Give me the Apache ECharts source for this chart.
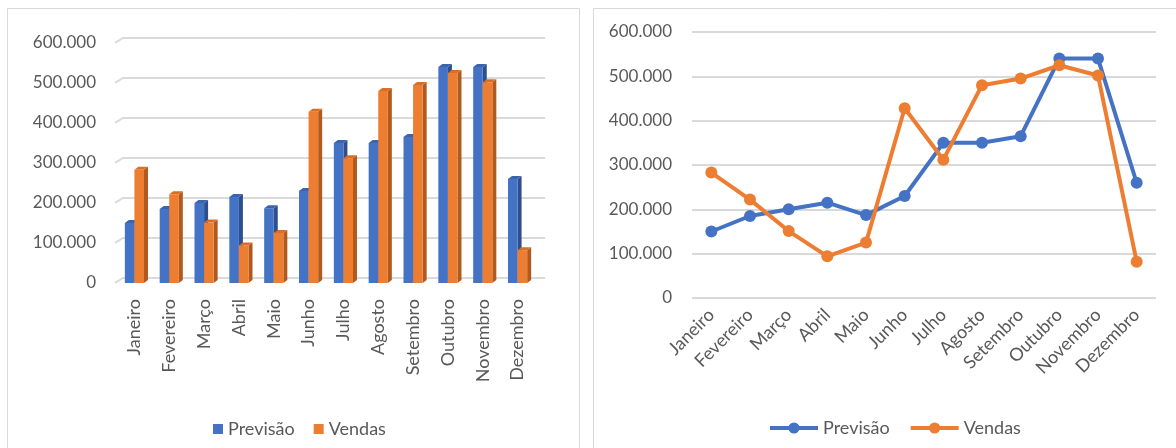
<!DOCTYPE html>
<html>
<head>
<meta charset="utf-8">
<script src="https://cdn.jsdelivr.net/npm/echarts@6/dist/echarts.min.js"></script>
<style>
html,body{margin:0;padding:0;background:#fff;}
#c{width:1176px;height:448px;}
</style>
</head>
<body>
<div id="c"></div>
<script>
// ---- data ----
var categories = ['Janeiro','Fevereiro','Março','Abril','Maio','Junho','Julho','Agosto','Setembro','Outubro','Novembro','Dezembro'];
var previsao = [150000,185000,200000,215000,187000,230000,350000,350000,365000,540000,540000,260000];
var vendas   = [283000,222000,151000,94000,125000,428000,312000,480000,495000,525000,502000,82000];
var yTickValues = [0,100000,200000,300000,400000,500000,600000];
var yTickLabels = ['0','100.000','200.000','300.000','400.000','500.000','600.000'];
var seriesNames = ['Previsão','Vendas'];

var BLUE = '#4472C4', ORANGE = '#ED7D31';
var FONT = 'Lato';
var TXT = '#595959';

function tickLabel(v){
  var i = yTickValues.indexOf(v);
  return i >= 0 ? yTickLabels[i] : '';
}

var faces = {
  0: {front: BLUE, side: '#2E4F8C', top: '#3A64AE'},
  1: {front: ORANGE, side: '#B25A1E', top: '#D96E27'}
};

function barRender(sIdx){
  return function(params, api){
    var i = api.value(0), v = api.value(1);
    var base = api.coord([i, 0]);
    var top = api.coord([i, v]);
    var band = api.size([1, 0])[0];
    var bw = band * 0.275;
    var cx = base[0];
    var x0 = sIdx === 0 ? cx - bw : cx;
    var x1 = x0 + bw;
    var y0 = base[1], y1 = top[1];
    var dx = 4, dy = -3;
    var f = faces[sIdx];
    return {
      type: 'group',
      children: [
        {type:'polygon', shape:{points:[[x1,y1],[x1+dx,y1+dy],[x1+dx,y0+dy],[x1,y0]]}, style:{fill:f.side}},
        {type:'polygon', shape:{points:[[x0,y1],[x0+dx,y1+dy],[x1+dx,y1+dy],[x1,y1]]}, style:{fill:f.top}},
        {type:'rect', shape:{x:x0, y:y1, width:bw, height:y0-y1}, style:{fill:f.front}}
      ]
    };
  };
}

function wallRender(params, api){
  var v = api.value(1);
  var y = api.coord([0, v])[1];
  var cs = params.coordSys;
  return {
    type:'polyline',
    shape:{points:[[cs.x-2, y],[cs.x+6, y-5],[cs.x+cs.width+10, y-5]]},
    style:{stroke:'#DADADA', lineWidth:2, fill:null}
  };
}

var chart = echarts.init(document.getElementById('c'), null, {renderer:'canvas'});

var option = {
  backgroundColor:'#fff',
  animation:false,
  textStyle:{fontFamily:FONT, color:TXT},
  graphic:[
    {type:'rect', shape:{x:7.5, y:8.5, width:572, height:460}, style:{fill:null, stroke:'#D9D9D9', lineWidth:1}, z:-10},
    {type:'rect', shape:{x:593.5, y:8.5, width:600, height:460}, style:{fill:null, stroke:'#D9D9D9', lineWidth:1}, z:-10}
  ],
  legend:[
    {
      left:208, top:415, itemWidth:10, itemHeight:10, itemGap:19,
      data:[{name:seriesNames[0], icon:'rect'},{name:seriesNames[1], icon:'rect'}],
      textStyle:{fontFamily:FONT, fontSize:18, color:TXT},
      selectedMode:false
    },
    {
      left:763, top:414, itemWidth:48, itemHeight:14, itemGap:19,
      data:[seriesNames[0], seriesNames[1]],
      lineStyle:{width:4},
      textStyle:{fontFamily:FONT, fontSize:18, color:TXT},
      selectedMode:false
    }
  ],
  grid:[
    {left:117, top:43, width:418, height:240},
    {left:692, top:32, width:464, height:266}
  ],
  xAxis:[
    {
      type:'category', gridIndex:0, data:categories, boundaryGap:true,
      axisLine:{show:false}, axisTick:{show:false},
      axisLabel:{rotate:90, margin:16, fontFamily:FONT, fontSize:18, color:TXT, interval:0}
    },
    {
      type:'category', gridIndex:1, data:categories, boundaryGap:true,
      axisLine:{show:false}, axisTick:{show:false},
      axisLabel:{rotate:45, margin:14, fontFamily:FONT, fontSize:18, color:TXT, interval:0}
    }
  ],
  yAxis:[
    {
      type:'value', gridIndex:0, min:0, max:600000, interval:100000,
      axisLine:{show:false}, axisTick:{show:false}, splitLine:{show:false},
      axisLabel:{margin:21, fontFamily:FONT, fontSize:17, color:TXT, formatter:tickLabel}
    },
    {
      type:'value', gridIndex:1, min:0, max:600000, interval:100000,
      axisLine:{show:false}, axisTick:{show:false},
      splitLine:{show:true, lineStyle:{color:'#D9D9D9', width:2}},
      axisLabel:{margin:20, fontFamily:FONT, fontSize:17, color:TXT, formatter:tickLabel}
    }
  ],
  series:[
    {
      name:seriesNames[0], type:'line', xAxisIndex:1, yAxisIndex:1, data:previsao,
      symbol:'circle', symbolSize:12, showAllSymbol:true,
      lineStyle:{width:4, color:BLUE}, itemStyle:{color:BLUE}, z:3
    },
    {
      name:seriesNames[1], type:'line', xAxisIndex:1, yAxisIndex:1, data:vendas,
      symbol:'circle', symbolSize:12, showAllSymbol:true,
      lineStyle:{width:4, color:ORANGE}, itemStyle:{color:ORANGE}, z:4
    },
    {
      name:'wall', type:'custom', xAxisIndex:0, yAxisIndex:0,
      data:yTickValues.map(function(v){return [0, v];}),
      renderItem:wallRender, silent:true, z:1
    },
    {
      name:seriesNames[0], type:'custom', xAxisIndex:0, yAxisIndex:0,
      data:previsao.map(function(v,i){return [i, v];}),
      renderItem:barRender(0), itemStyle:{color:BLUE}, z:2
    },
    {
      name:seriesNames[1], type:'custom', xAxisIndex:0, yAxisIndex:0,
      data:vendas.map(function(v,i){return [i, v];}),
      renderItem:barRender(1), itemStyle:{color:ORANGE}, z:3
    }
  ]
};
chart.setOption(option);
</script>
</body>
</html>
